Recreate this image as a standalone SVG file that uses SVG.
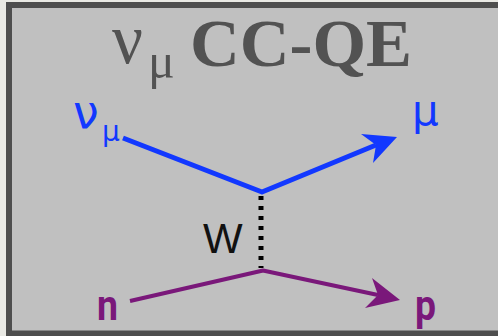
<svg xmlns="http://www.w3.org/2000/svg" width="498" height="336" viewBox="0 0 498 336">
<style>
.title{fill:#525252;font-family:"Liberation Serif",serif}
.blue{fill:#1238ff}
.purp{fill:#7a187a}
.lab{font-family:"DejaVu Sans",sans-serif}
.np{font-family:Roboto,sans-serif;font-weight:bold}
.bl{stroke:#1238ff;stroke-width:5;fill:none;stroke-linejoin:round}
.pl{stroke:#7a187a;stroke-width:4;fill:none;stroke-linejoin:round}
</style>
<rect x="0" y="0" width="498" height="336" fill="#e9e9e4"/>
<rect id="frame" x="9" y="5" width="500" height="328.5" fill="#c0c0c0" stroke="#4e4e4e" stroke-width="6"/>
<g id="title">
<text class="title" x="112" y="63" font-size="72" textLength="31" lengthAdjust="spacingAndGlyphs">ν</text>
<text class="title" x="148" y="78" font-size="50">μ</text>
<text class="title" x="190" y="66" font-size="68" font-weight="bold" textLength="222" lengthAdjust="spacingAndGlyphs">CC-QE</text>
</g>
<g id="connectors">
<polyline class="bl" points="123,138 262,192 376,145"/>
<polygon class="blue" points="397,137 361,134 376,145 373,163"/>
<line x1="261" y1="196" x2="261" y2="268" stroke="#000" stroke-width="5" stroke-dasharray="4 6"/>
<polyline class="pl" points="130,301 263,270.5 378,295"/>
<polygon class="purp" points="400,300 372,278 378,295 365,308"/>
</g>
<g id="nu_in">
<text class="blue lab" x="73" y="128" font-size="46">ν</text>
<text class="blue lab" x="102" y="141" font-size="28">μ</text>
</g>
<g id="mu_out">
<text class="blue lab" x="412" y="125" font-size="42">μ</text>
</g>
<g id="w_boson">
<text x="203" y="253" font-family="Liberation Sans,sans-serif" font-size="42" fill="#111">W</text>
</g>
<g id="neutron">
<text class="purp np" x="97" y="320" font-size="42" textLength="21" lengthAdjust="spacingAndGlyphs">n</text>
</g>
<g id="proton">
<text class="purp np" x="415" y="320" font-size="42" textLength="21" lengthAdjust="spacingAndGlyphs">p</text>
</g>
</svg>
